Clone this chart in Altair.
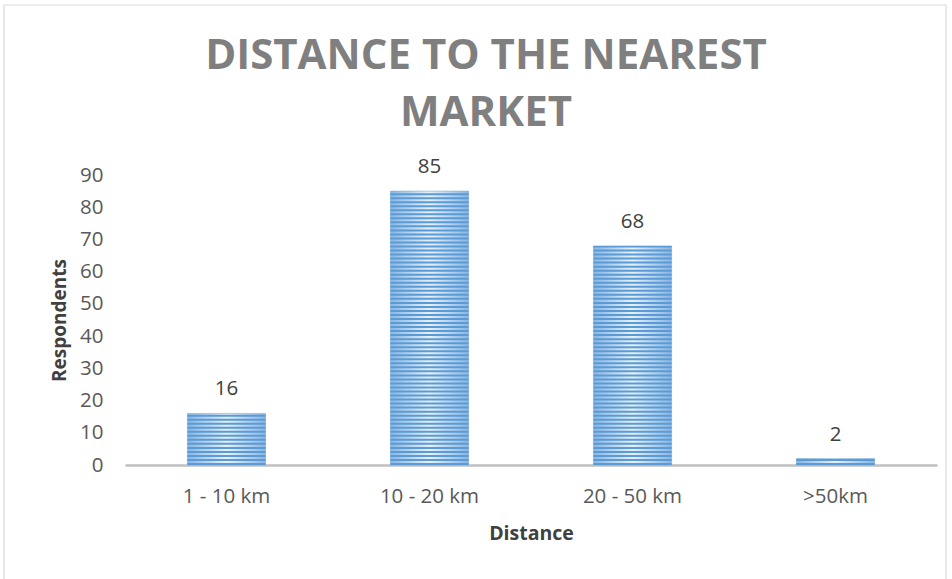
import altair as alt
import pandas as pd

categories = ["1 - 10 km", "10 - 20 km", "20 - 50 km", ">50km"]
respondents = [16, 85, 68, 2]
y_ticks = [0, 10, 20, 30, 40, 50, 60, 70, 80, 90]
title_lines = ["DISTANCE TO THE NEAREST", "MARKET"]

df = pd.DataFrame({"Distance": categories, "Respondents": respondents})

FONT = "Open Sans"
LABEL_COLOR = "#595959"

x_scale = alt.Scale(paddingInner=0.615, paddingOuter=0.3075)
y_scale = alt.Scale(domain=[0, 90], nice=False)

x_axis = alt.Axis(
    labelAngle=0,
    ticks=False,
    grid=False,
    domainColor="#bfbfbf",
    domainWidth=2.5,
    labelFont=FONT,
    labelFontSize=20.5,
    labelColor=LABEL_COLOR,
    labelPadding=21,
    titleFont=FONT,
    titleFontSize=19.5,
    titleFontWeight="bold",
    titleColor="#404040",
    titlePadding=18,
)
y_axis = alt.Axis(
    values=y_ticks,
    tickCount=10,
    labelOverlap=False,
    domain=False,
    ticks=False,
    grid=False,
    labelFont=FONT,
    labelFontSize=20.5,
    labelColor=LABEL_COLOR,
    labelPadding=22,
    titleFont=FONT,
    titleFontSize=19,
    titleFontWeight="bold",
    titleColor="#404040",
    titlePadding=10,
)


def xe():
    return alt.X("Distance:N", sort=categories, scale=x_scale, title="Distance", axis=x_axis)


def ye(field):
    return alt.Y(field, scale=y_scale, title="Respondents", axis=y_axis)


base = alt.Chart(df)

bar_gradient = alt.Gradient(
    gradient="linear",
    stops=[
        alt.GradientStop(color="#8ab6e2", offset=0),
        alt.GradientStop(color="#e6f0fa", offset=0.5),
        alt.GradientStop(color="#8ab6e2", offset=1),
    ],
    x1=0, x2=1, y1=0, y2=0,
)

bars = base.mark_bar(fill=bar_gradient, stroke="#7eaedc", strokeWidth=0.6).encode(
    x=xe(), y=ye("Respondents:Q")
)

stripes = (
    base.transform_calculate(s="sequence(0, datum.Respondents, 1.25)")
    .transform_flatten(["s"])
    .transform_calculate(s2="min(datum.s + 0.62, datum.Respondents)")
    .mark_bar(color="#5b9bd5")
    .encode(x=xe(), y=ye("s:Q"), y2="s2:Q")
)

labels = base.mark_text(
    dy=-18, baseline="alphabetic", fontSize=20.5, font=FONT, color="#404040"
).encode(x=xe(), y=ye("Respondents:Q"), text="Respondents:Q")

frame = base.mark_rect(fill="transparent", stroke="#d9d9d9", strokeWidth=1.2).encode(
    x=alt.value(-121), x2=alt.value(821), y=alt.value(-170), y2=alt.value(420)
).transform_filter("datum.Distance == '1 - 10 km'")

chart = (
    alt.layer(bars, stripes, labels, frame)
    .properties(
        width=812,
        height=290,
        autosize=alt.AutoSizeParams(type="none"),
        padding={"left": 125, "top": 175, "right": 15, "bottom": 114},
        title=alt.TitleParams(
            text=title_lines,
            font=FONT,
            fontSize=42,
            fontWeight="bold",
            color="#7f7f7f",
            lineHeight=57,
            anchor="middle",
            baseline="alphabetic",
            dx=-45,
            dy=164,
            offset=0,
        ),
    )
    .configure(background="white")
    .configure_view(stroke=None)
)

chart.save("out.html", embed_options={"renderer": "svg", "actions": False})
